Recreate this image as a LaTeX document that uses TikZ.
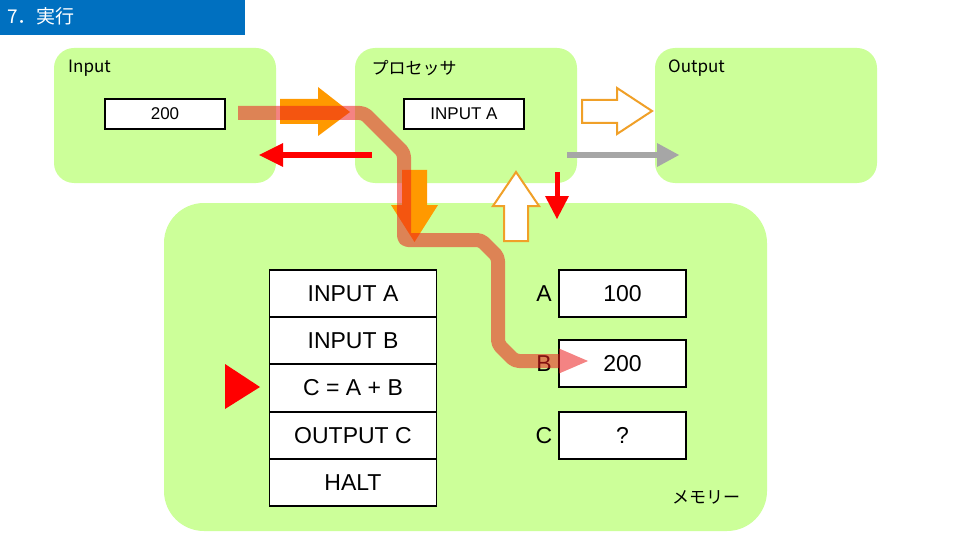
\documentclass[tikz,border=0pt]{standalone}
\usepackage{fontspec}
\setmainfont{Liberation Sans}
\newfontfamily\jp{Noto Sans CJK JP}
\definecolor{lgreen}{RGB}{204,255,153}
\definecolor{titleblue}{RGB}{0,112,192}
\definecolor{blockorange}{RGB}{255,153,0}
\definecolor{outlineorange}{RGB}{240,160,40}
\definecolor{pathred}{RGB}{236,30,30}
\definecolor{arrowgray}{RGB}{166,166,166}
\begin{document}
\begin{tikzpicture}[x=1pt,y=-1pt,
  zone/.style={fill=lgreen, draw=none, rounded corners=20pt},
  cell/.style={draw=black, line width=1.5pt, fill=white, inner sep=0pt, font=\fontsize{23}{26}\selectfont},
  smallcell/.style={draw=black, line width=1.5pt, fill=white, inner sep=0pt, minimum width=120pt, minimum height=30pt, font=\fontsize{17}{20}\selectfont},
  progcell/.style={cell, minimum width=167pt, minimum height=47pt},
  memcell/.style={cell, minimum width=127pt, minimum height=47pt},
  memlabel/.style={font=\fontsize{23}{26}\selectfont, inner sep=0pt},
  zonelabel/.style={font=\jp\fontsize{17}{20}\selectfont, inner sep=0pt},
  blockarrow/.style={fill=blockorange, draw=none},
  hollowarrow/.style={fill=white, draw=outlineorange, line width=2pt, line join=miter},
  thinred/.style={draw=red, line width=6pt},
  thingray/.style={draw=arrowgray, line width=6pt},
  flowpath/.style={draw=pathred, opacity=0.55, line width=14pt, line join=round, rounded corners=4pt}
]
\useasboundingbox (0,0) rectangle (960,540);
\fill[white] (0,0) rectangle (960,540);

% title
\fill[titleblue] (0,0) rectangle (245,35);
\node[anchor=west, text=white, font=\jp\fontsize{19}{22}\selectfont, inner sep=0pt] (title) at (7,16) {7．実行};

% zones
\fill[zone] (54,48) rectangle (276,183);
\fill[zone] (355,48) rectangle (577,183);
\fill[zone] (655,48) rectangle (877,183);
\fill[zone, rounded corners=40pt] (164,203) rectangle (767,531);

\node[zonelabel, anchor=west] (inlabel) at (68,68) {Input};
\node[zonelabel] (proclabel) at (414,68) {プロセッサ};
\node[zonelabel, anchor=west] (outlabel) at (668,68) {Output};
\node[zonelabel] (memlabeltext) at (706,497) {メモリー};

% small cells
\node[smallcell] (inval) at (165,114) {200};
\node[smallcell] (reg) at (464,114) {INPUT A};

% program
\node[progcell] (p1) at (353,293.5) {INPUT A};
\node[progcell] (p2) at (353,340.5) {INPUT B};
\node[progcell] (p3) at (353,388) {C = A + B};
\node[progcell] (p4) at (353,435.5) {OUTPUT C};
\node[progcell] (p5) at (353,482.5) {HALT};

% pointer
\fill[red] (225,364) -- (260,387) -- (225,409) -- cycle;

% memory
\node[memlabel] (la) at (544,293.5) {A};
\node[memlabel] (lb) at (544,363.5) {B};
\node[memlabel] (lc) at (544,435.5) {C};
\node[memcell] (ma) at (622.5,293.5) {100};
\node[memcell] (mb) at (622.5,363.5) {200};
\node[memcell] (mc) at (622.5,435.5) {?};

% orange block arrows
\fill[blockarrow] (280,99) -- (318,99) -- (318,87) -- (350,112) -- (318,136) -- (318,124) -- (280,124) -- cycle;
\fill[blockarrow] (402,170) -- (427,170) -- (427,205) -- (438,205) -- (414.5,242) -- (391,205) -- (402,205) -- cycle;

% hollow arrows
\draw[hollowarrow] (582,100) -- (617,100) -- (617,88) -- (652,111) -- (617,134) -- (617,123) -- (582,123) -- cycle;
\draw[hollowarrow] (504,241) -- (504,206) -- (493,206) -- (516,172) -- (539,206) -- (528,206) -- (528,241) -- cycle;

% thin arrows
\coordinate (rl0) at (372,155);
\coordinate (rl1) at (283,155);
\draw[thinred] (rl0) -- (rl1);
\fill[red] (283,143) -- (259,155) -- (283,167) -- cycle;

\coordinate (g0) at (567,155);
\coordinate (g1) at (657,155);
\draw[thingray] (g0) -- (g1);
\fill[arrowgray] (657,143) -- (679,155) -- (657,167) -- cycle;

\coordinate (rd0) at (557,172);
\coordinate (rd1) at (557,197);
\draw[red, line width=5pt] (rd0) -- (rd1);
\fill[red] (545,196) -- (557,219) -- (569,196) -- cycle;

% flow path
\draw[flowpath] (238,113) -- (364,113) -- (404,153) -- (404,240) -- (481,240) -- (498,257) -- (498,344) -- (515,361) -- (559,361);
\fill[pathred, opacity=0.55] (559,348.5) -- (588,361) -- (559,373.5) -- cycle;
\end{tikzpicture}
\end{document}
